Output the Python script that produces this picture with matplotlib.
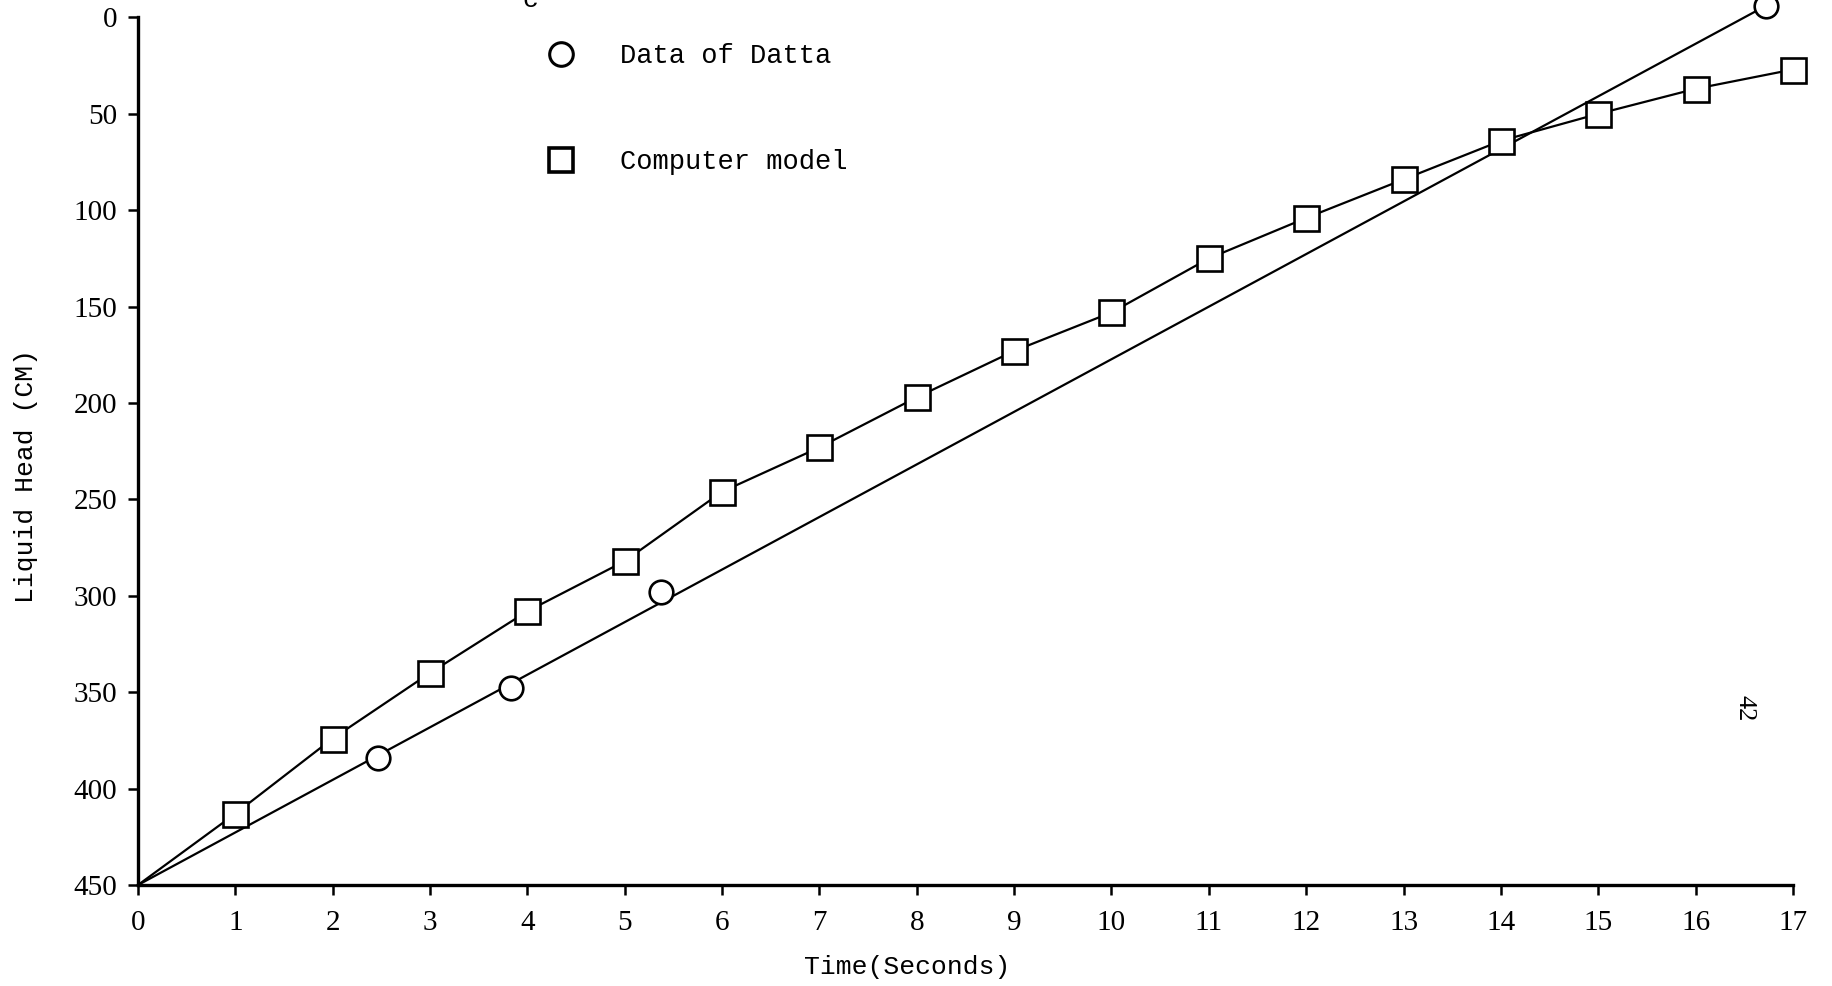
import matplotlib.pyplot as plt
from matplotlib.lines import Line2D

plt.rcParams['figure.dpi'] = 100

# Computer model: liquid head (cm) at each second
model_t = [0, 1, 2, 3, 4, 5, 6, 7, 8, 9, 10, 11, 12, 13, 14, 15, 16, 17]
model_h = [450, 413, 374, 340, 308, 282, 246, 223, 197, 173, 153, 125, 104, 84, 64, 50, 37, 27]

# Measured points (Datta) and the straight line drawn through them
datta_t = [2.47, 3.83, 5.37, 16.72]
datta_h = [384, 348, 298, -6]
fit_t = [0, 16.72]
fit_h = [450, -6]

x_ticks = list(range(0, 18))
y_ticks = list(range(0, 451, 50))

mono = 'Liberation Mono'
serif = 'Liberation Serif'

fig = plt.figure(figsize=(18.32, 9.86))
ax = fig.add_axes([0.0753, 0.1024, 0.9034, 0.8799])

ax.plot(fit_t, fit_h, color='black', linewidth=1.6, zorder=2, clip_on=False)
ax.plot(model_t, model_h, color='black', linewidth=1.6, zorder=2)
ax.plot(model_t[1:], model_h[1:], linestyle='none', marker='s', markersize=18,
        markerfacecolor='white', markeredgecolor='black', markeredgewidth=1.9,
        zorder=3, clip_on=False)
ax.plot(datta_t, datta_h, linestyle='none', marker='o', markersize=17,
        markerfacecolor='white', markeredgecolor='black', markeredgewidth=1.9,
        zorder=3, clip_on=False)

ax.set_xlim(0, 17)
ax.set_ylim(450, 0)
ax.set_xticks(x_ticks)
ax.set_yticks(y_ticks)

for s in ['top', 'right']:
    ax.spines[s].set_visible(False)
for s in ['left', 'bottom']:
    ax.spines[s].set_linewidth(2.4)

ax.tick_params(axis='both', direction='out', length=7, width=1.8, labelsize=21)
ax.tick_params(axis='x', pad=11)
ax.tick_params(axis='y', pad=8)
for lab in ax.get_xticklabels() + ax.get_yticklabels():
    lab.set_fontfamily(serif)

ax.set_xlabel('Time(Seconds)', fontsize=19, fontfamily=mono, va='center')
ax.xaxis.set_label_coords(0.4645, -0.0945)
ax.set_ylabel('Liquid Head (CM)', fontsize=19, fontfamily=mono, va='center')
ax.yaxis.set_label_coords(-0.0679, 0.471)

# key in the upper part of the plot
handles = [
    Line2D([], [], linestyle='none', marker='o', markersize=17,
           markerfacecolor='white', markeredgecolor='black', markeredgewidth=2.2),
    Line2D([], [], linestyle='none', marker='s', markersize=17,
           markerfacecolor='white', markeredgecolor='black', markeredgewidth=2.6),
]
ax.legend(handles, ['Data of Datta', 'Computer model'], loc='upper left',
          bbox_to_anchor=(0.239, 0.986), frameon=False, borderpad=0,
          handlelength=1.0, handletextpad=1.7, labelspacing=2.96,
          prop={'family': mono, 'size': 19.5})

fig.text(0.2895, 1.0, 'c', fontsize=19, fontfamily=mono, ha='center', va='center')
fig.text(0.9525, 0.282, '42', fontsize=19, fontfamily=serif, rotation=-90,
         ha='center', va='center')

fig.savefig('out.png', dpi=100, facecolor='white')
